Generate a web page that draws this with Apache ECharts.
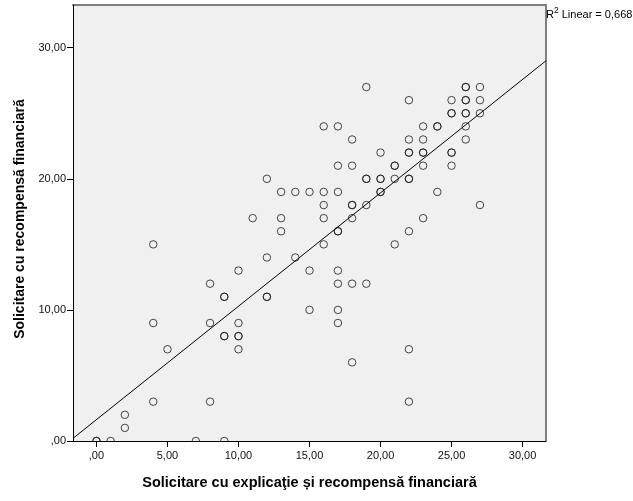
<!DOCTYPE html>
<html>
<head>
<meta charset="utf-8">
<script src="https://cdn.jsdelivr.net/npm/echarts@6/dist/echarts.min.js"></script>
<style>
html,body{margin:0;padding:0;background:#fff;}
#chart{width:633px;height:501px;}
</style>
</head>
<body>
<div id="chart"></div>
<script>
// ---- data (repeated pairs = overlapping cases) ----
const xValues = [
  12,13,14,15,11,13,13,4,
  19,26,26,27,
  22,25,26,26,27,
  25,25,26,26,27,
  16,17,23,24,24,26,
  18,22,23,26,
  20,22,22,23,23,25,25,
  17,18,21,21,23,25,
  19,19,20,20,21,22,22,
  16,17,20,20,24,
  16,18,18,19,27,
  16,18,23,
  17,17,22,
  16,21,
  12,14,
  10,15,17,
  8,17,18,19,
  9,9,12,12,
  15,17,
  4,8,10,17,
  9,9,10,10,
  5,10,22,
  18,
  4,8,22,
  2,2,
  0,0,1,7,9
];
const yValues = [
  20,19,19,19,17,17,16,15,
  27,27,27,27,
  26,26,26,26,26,
  25,25,25,25,25,
  24,24,24,24,24,24,
  23,23,23,23,
  22,22,22,22,22,22,22,
  21,21,21,21,21,21,
  20,20,20,20,20,20,20,
  19,19,19,19,19,
  18,18,18,18,18,
  17,17,17,
  16,16,16,
  15,15,
  14,14,
  13,13,13,
  12,12,12,12,
  11,11,11,11,
  10,10,
  9,9,9,9,
  8,8,8,8,
  7,7,7,
  6,
  3,3,3,
  2,1,
  0,0,0,0,0
];
// fitted linear regression shown in the reference
const fitIntercept = 1.63;
const fitSlope = 0.865;
const rSquaredText = '0,668';
// tick values / labels
const xTickValues = [0, 5, 10, 15, 20, 25, 30];
const yTickValues = [0, 10, 20, 30];
const xTitle = 'Solicitare cu explicaţie și recompensă financiară';
const yTitle = 'Solicitare cu recompensă financiară';

// ---- layout ----
const xMin = -1.65, xMax = 31.65, yMin = 0, yMax = 33.26;
const G = {left: 73, top: 5, right: 87, bottom: 60};
const W = 633, H = 501;
const FONT = "'Liberation Sans', Arial, sans-serif";

function fmt(v) {
  if (v === 0) return ',00';
  return v.toFixed(2).replace('.', ',');
}

const points = xValues.map((x, i) => [x, yValues[i]]);
const fitLine = [[xMin, fitIntercept + fitSlope * xMin], [xMax, fitIntercept + fitSlope * xMax]];

const chart = echarts.init(document.getElementById('chart'), null, {renderer: 'canvas'});
chart.setOption({
  animation: false,
  backgroundColor: '#ffffff',
  textStyle: {fontFamily: FONT},
  title: {
    left: 546, top: 6, padding: 0,
    text: '{a|R}{s|2}{a| Linear = ' + rSquaredText + '}',
    textStyle: {
      fontWeight: 'normal',
      rich: {
        a: {fontFamily: FONT, fontSize: 11, fontWeight: 'normal', color: '#000', verticalAlign: 'bottom', lineHeight: 14},
        s: {fontFamily: FONT, fontSize: 8.5, fontWeight: 'normal', color: '#000', verticalAlign: 'top', lineHeight: 14, padding: [0, 0, 5, 0]}
      }
    }
  },
  grid: {
    left: G.left, top: G.top, right: G.right, bottom: G.bottom,
    show: true, backgroundColor: '#f0f0f0', borderWidth: 0
  },
  graphic: [{
    type: 'rect', z: 50, silent: true,
    shape: {x: 0, y: H - G.bottom + 0.5, width: W, height: G.bottom},
    style: {fill: '#ffffff'}
  }],
  xAxis: [{
    type: 'value', min: xMin, max: xMax, z: 60,
    name: xTitle, nameLocation: 'middle', nameGap: 34,
    nameTextStyle: {fontFamily: FONT, fontSize: 14.5, fontWeight: 'bold', color: '#000'},
    axisLine: {show: true, onZero: false, lineStyle: {color: '#000', width: 1}},
    axisTick: {show: true, length: 6, customValues: xTickValues, lineStyle: {color: '#000'}},
    axisLabel: {customValues: xTickValues, formatter: fmt, margin: 9, fontFamily: FONT, fontSize: 11, color: '#111'},
    splitLine: {show: false}
  }, {
    type: 'value', min: xMin, max: xMax, position: 'top',
    axisLine: {show: true, onZero: false, lineStyle: {color: '#808080', width: 2}},
    axisTick: {show: false}, axisLabel: {show: false}, splitLine: {show: false}
  }],
  yAxis: [{
    type: 'value', min: yMin, max: yMax, z: 60,
    name: yTitle, nameLocation: 'middle', nameGap: 46,
    nameTextStyle: {fontFamily: FONT, fontSize: 14, fontWeight: 'bold', color: '#000', padding: [0, 0, 0, 8]},
    axisLine: {show: true, onZero: false, lineStyle: {color: '#000', width: 1}},
    axisTick: {show: true, length: 6, customValues: yTickValues, lineStyle: {color: '#000'}},
    axisLabel: {customValues: yTickValues, formatter: fmt, margin: 7, fontFamily: FONT, fontSize: 11, color: '#111'},
    splitLine: {show: false}
  }, {
    type: 'value', min: yMin, max: yMax, position: 'right',
    axisLine: {show: true, onZero: false, lineStyle: {color: '#808080', width: 2}},
    axisTick: {show: false}, axisLabel: {show: false}, splitLine: {show: false}
  }],
  series: [{
    type: 'scatter', xAxisIndex: 0, yAxisIndex: 0, z: 2,
    data: points, symbol: 'circle', symbolSize: 7.5,
    itemStyle: {color: 'rgba(0,0,0,0)', borderColor: '#1a1a1a', borderWidth: 1},
    emphasis: {disabled: true}
  }, {
    type: 'line', xAxisIndex: 0, yAxisIndex: 0, z: 3,
    data: fitLine, showSymbol: false, symbol: 'none',
    lineStyle: {color: '#000', width: 1},
    emphasis: {disabled: true}
  }]
});
</script>
</body>
</html>
